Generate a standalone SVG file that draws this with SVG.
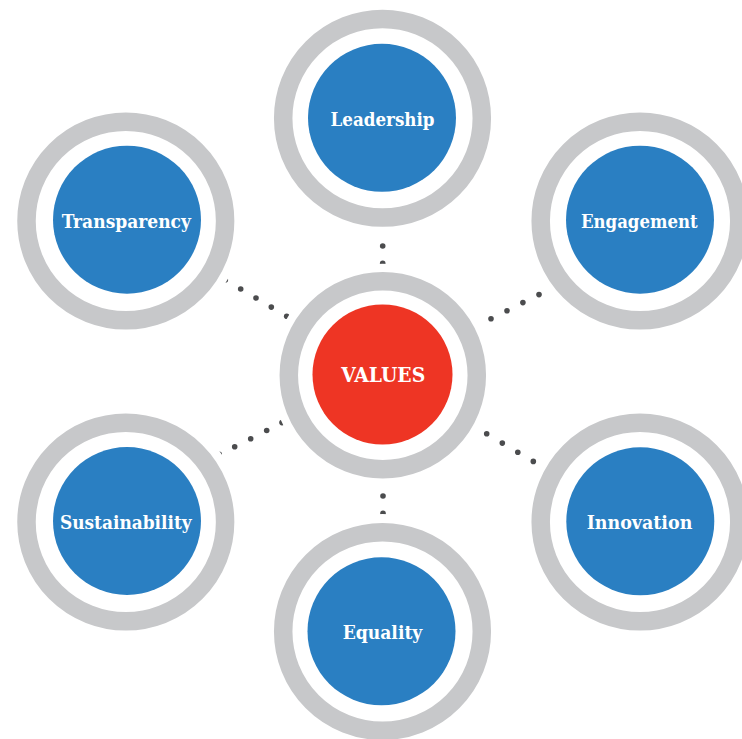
<svg xmlns="http://www.w3.org/2000/svg" width="742" height="739" viewBox="0 0 742 739">
<style>
.bg{fill:#ffffff}
.ring{fill:none;stroke:#c7c8ca;stroke-width:18.5}
.blue{fill:#2a7fc2}
.red{fill:#ee3524}
.dot{fill:#4b4c4e}
.lbl{font-family:"DejaVu Serif","Liberation Serif",serif;font-weight:bold;font-size:19px;fill:#ffffff;text-anchor:middle}
</style>
<rect width="742" height="739" fill="#ffffff"/>
<g id="connectors">
<circle class="dot" cx="382.7" cy="246" r="2.8"/>
<circle class="dot" cx="382.7" cy="263.4" r="2.8"/>
<circle class="dot" cx="383" cy="496" r="2.8"/>
<circle class="dot" cx="383" cy="513.4" r="2.8"/>
<circle class="dot" cx="225.3" cy="280" r="2.8"/>
<circle class="dot" cx="240.7" cy="289" r="2.8"/>
<circle class="dot" cx="256" cy="298" r="2.8"/>
<circle class="dot" cx="271.3" cy="307.1" r="2.8"/>
<circle class="dot" cx="286.7" cy="316.3" r="2.8"/>
<circle class="dot" cx="219.2" cy="454.3" r="2.8"/>
<circle class="dot" cx="234.7" cy="446.7" r="2.8"/>
<circle class="dot" cx="250.7" cy="438.7" r="2.8"/>
<circle class="dot" cx="266.7" cy="430.5" r="2.8"/>
<circle class="dot" cx="282" cy="422.6" r="2.8"/>
<circle class="dot" cx="491" cy="318.7" r="2.8"/>
<circle class="dot" cx="507" cy="310.7" r="2.8"/>
<circle class="dot" cx="522.9" cy="302.6" r="2.8"/>
<circle class="dot" cx="539" cy="294.6" r="2.8"/>
<circle class="dot" cx="486.7" cy="433.7" r="2.8"/>
<circle class="dot" cx="502.3" cy="443.1" r="2.8"/>
<circle class="dot" cx="517.8" cy="452.3" r="2.8"/>
<circle class="dot" cx="533.3" cy="461.4" r="2.8"/>
</g>
<g id="values">
<circle class="bg" cx="382.8" cy="375.2" r="111.5"/>
<circle class="ring" cx="382.8" cy="375.2" r="94"/>
<circle class="red" cx="382.5" cy="374.5" r="70"/>
<text class="lbl" x="383.2" y="382.3" textLength="84" lengthAdjust="spacingAndGlyphs" style="font-size:20.5px">VALUES</text>
</g>
<g id="leadership">
<circle class="bg" cx="382.5" cy="118.3" r="117.5"/>
<circle class="ring" cx="382.5" cy="118.3" r="99.3"/>
<circle class="blue" cx="382" cy="117.8" r="74"/>
<text class="lbl" x="382.5" y="126" textLength="104" lengthAdjust="spacingAndGlyphs">Leadership</text>
</g>
<g id="transparency">
<circle class="bg" cx="125.8" cy="221" r="117.5"/>
<circle class="ring" cx="125.8" cy="221" r="99.3"/>
<circle class="blue" cx="127" cy="219.7" r="74"/>
<text class="lbl" x="126.3" y="227.7" textLength="129.3" lengthAdjust="spacingAndGlyphs">Transparency</text>
</g>
<g id="engagement">
<circle class="bg" cx="640" cy="221" r="117.5"/>
<circle class="ring" cx="640" cy="221" r="99.3"/>
<circle class="blue" cx="640" cy="219.7" r="74"/>
<text class="lbl" x="639.3" y="227.7" textLength="116.7" lengthAdjust="spacingAndGlyphs">Engagement</text>
</g>
<g id="sustainability">
<circle class="bg" cx="125.8" cy="522" r="117.5"/>
<circle class="ring" cx="125.8" cy="522" r="99.3"/>
<circle class="blue" cx="127" cy="521" r="74"/>
<text class="lbl" x="125.8" y="529" textLength="131.7" lengthAdjust="spacingAndGlyphs">Sustainability</text>
</g>
<g id="innovation">
<circle class="bg" cx="640" cy="522" r="117.5"/>
<circle class="ring" cx="640" cy="522" r="99.3"/>
<circle class="blue" cx="640.3" cy="521.3" r="74"/>
<text class="lbl" x="639.5" y="529.3" textLength="105.7" lengthAdjust="spacingAndGlyphs">Innovation</text>
</g>
<g id="equality">
<circle class="bg" cx="382.5" cy="631.5" r="117.5"/>
<circle class="ring" cx="382.5" cy="631.5" r="99.3"/>
<circle class="blue" cx="381.5" cy="631.3" r="74"/>
<text class="lbl" x="382.5" y="639.3" textLength="79.7" lengthAdjust="spacingAndGlyphs">Equality</text>
</g>
</svg>
